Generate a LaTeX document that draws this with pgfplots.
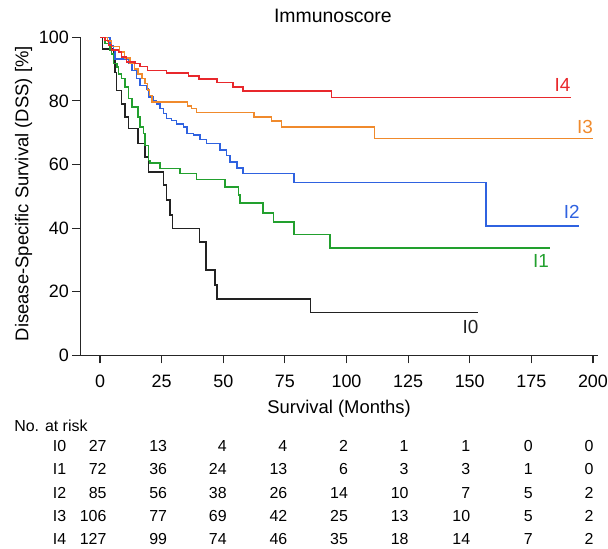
\documentclass[border=0pt]{standalone}
\usepackage{fontspec}
\setmainfont{Liberation Sans}
\usepackage{pgfplots}
\pgfplotsset{compat=1.18}
\definecolor{cIfour}{HTML}{E8282C}
\definecolor{cIthree}{HTML}{F08A2C}
\definecolor{cItwo}{HTML}{2F62E0}
\definecolor{cIone}{HTML}{22A02E}
\definecolor{cIzero}{HTML}{222222}
\newcommand{\fs}[1]{\fontsize{#1}{#1}\selectfont}
\begin{document}
\begin{tikzpicture}
\begin{axis}[
  scale only axis, width=517.6bp, height=318bp,
  xmin=-8, xmax=202, ymin=0, ymax=100,
  axis lines*=left,
  xtick={0,25,...,200}, ytick={0,20,...,100},
  tick align=outside, major tick length=8bp,
  tick style={line width=1.1bp, black!85},
  axis line style={line width=1.1bp, black!85},
  /pgf/number format/assume math mode=true,
  ticklabel style={font=\fs{18}},
  xticklabel style={yshift=-8bp},
  clip=false,
  every axis plot/.append style={const plot, line width=1.5bp},
]
% I0
\addplot[cIzero] coordinates {(0,100)(1.1,96.3)(5.4,92.6)(6.1,88.9)(6.7,83.3)(8.8,79.1)(10.1,75)(11.5,71.3)(15.5,66.6)(18.3,62.4)(19.6,57.6)(25.7,53.5)(27,48.8)(28.4,44.1)(29.5,39.9)(40.3,35.7)(43,26.8)(46.6,22.1)(47.5,17.7)(85.4,13.4)(153.5,13.4)};
% I1
\addplot[cIone] coordinates {(0,100)(2,98)(4.1,95.9)(4.7,94.8)(5.4,91.7)(6.8,90.6)(7.4,88.5)(8.8,87)(10.1,84.3)(11.5,80.7)(12.9,78.1)(15.5,74.9)(16.2,71.8)(17.6,69.7)(18.3,66)(19.6,61.3)(20.3,60.5)(24.3,58.7)(32.5,57.1)(39.2,55.3)(50.7,52.9)(56.1,50.4)(56.8,47.9)(66.2,44.8)(70.3,41.9)(78.8,38)(93.3,33.8)(182.6,33.8)};
% I2
\addplot[cItwo] coordinates {(0,100)(4,97.4)(5.4,95.9)(6.1,93.2)(11.5,91.7)(12.9,89.6)(14.9,87)(16.2,84.9)(18.9,83.8)(19.6,81.2)(21.6,80.2)(23,79.1)(24.3,77.6)(25.7,76)(27,74.4)(29.1,73.9)(31.1,72.8)(33.8,71.8)(35.2,69.7)(37.9,69.2)(40.6,67.9)(43.3,66.6)(48.7,64.5)(51.4,62.9)(52.7,60.8)(55.5,58.9)(58.1,57.1)(78.8,54.3)(156.6,40.7)(194.4,40.7)};
% I3
\addplot[cIthree] coordinates {(0,100)(3,98.8)(4.7,97.1)(8,95.3)(10,93.5)(12.2,91.7)(14,90)(15.5,88.5)(17,87)(18.3,85.4)(19.2,83.5)(20,81.7)(21,79.6)(35.5,78.4)(37.2,77.6)(39.2,76.4)(62.5,75)(69.6,73.6)(73.7,71.8)(111.3,68.1)(200,68.1)};
% I4
\addplot[cIfour] coordinates {(0,100)(2,99)(3.5,97.5)(4.7,96)(7.4,95.3)(8.8,93.8)(10.8,92.2)(14.2,91.7)(16.2,90.8)(19.2,89.6)(27,88.7)(35.8,87.8)(40.2,86.9)(47.5,85.8)(54,84.3)(58,83.1)(94,81)(191,81)};
% curve labels
\node[text=cIfour, font=\fs{19}] at (axis cs:187.6,85) {I4};
\node[text=cIthree, font=\fs{19}] at (axis cs:196.8,71.7) {I3};
\node[text=cItwo, font=\fs{19}] at (axis cs:191.4,45) {I2};
\node[text=cIone, font=\fs{19}] at (axis cs:178.9,29.8) {I1};
\node[text=cIzero, font=\fs{19}] at (axis cs:150.3,8.9) {I0};
% title and axis labels
\node[font=\fs{19.5}] at (axis cs:94.5,106.8) {Immunoscore};
\node[font=\fs{18.5}] at (axis cs:97,-16.9) {Survival (Months)};
\node[font=\fs{18.5}, rotate=90] at (axis cs:-31,50.8) {Disease-Specific Survival (DSS) [\%]};
\end{axis}
% risk table (text)
\node[font=\fs{16}, anchor=west] at (-69.5bp,-70.7bp) {No. at risk};
\foreach \lab/\yy in {I0/-90.7, I1/-114, I2/-137.4, I3/-160.7, I4/-184}{
  \node[font=\fs{16}, anchor=west] at (-31bp,\yy bp) {\lab};
}
\foreach \row/\yy in {{27,13,4,4,2,1,1,0,0}/-90.7, {72,36,24,13,6,3,3,1,0}/-114, {85,56,38,26,14,10,7,5,2}/-137.4, {106,77,69,42,25,13,10,5,2}/-160.7, {127,99,74,46,35,18,14,7,2}/-184}{
  \foreach \v [count=\i from 0] in \row {
    \pgfmathsetmacro{\off}{{10,9,7,6,5,4,4,5,4}[\i]}
    \pgfmathsetmacro{\xx}{19.7+61.62*\i+\off}
    \node[font=\fs{16}, anchor=east] at (\xx bp,\yy bp) {\v};
  }
}
\pgfresetboundingbox
\useasboundingbox (-80.3bp,-193.7bp) rectangle (527.7bp,355.3bp);
\end{tikzpicture}
\end{document}
